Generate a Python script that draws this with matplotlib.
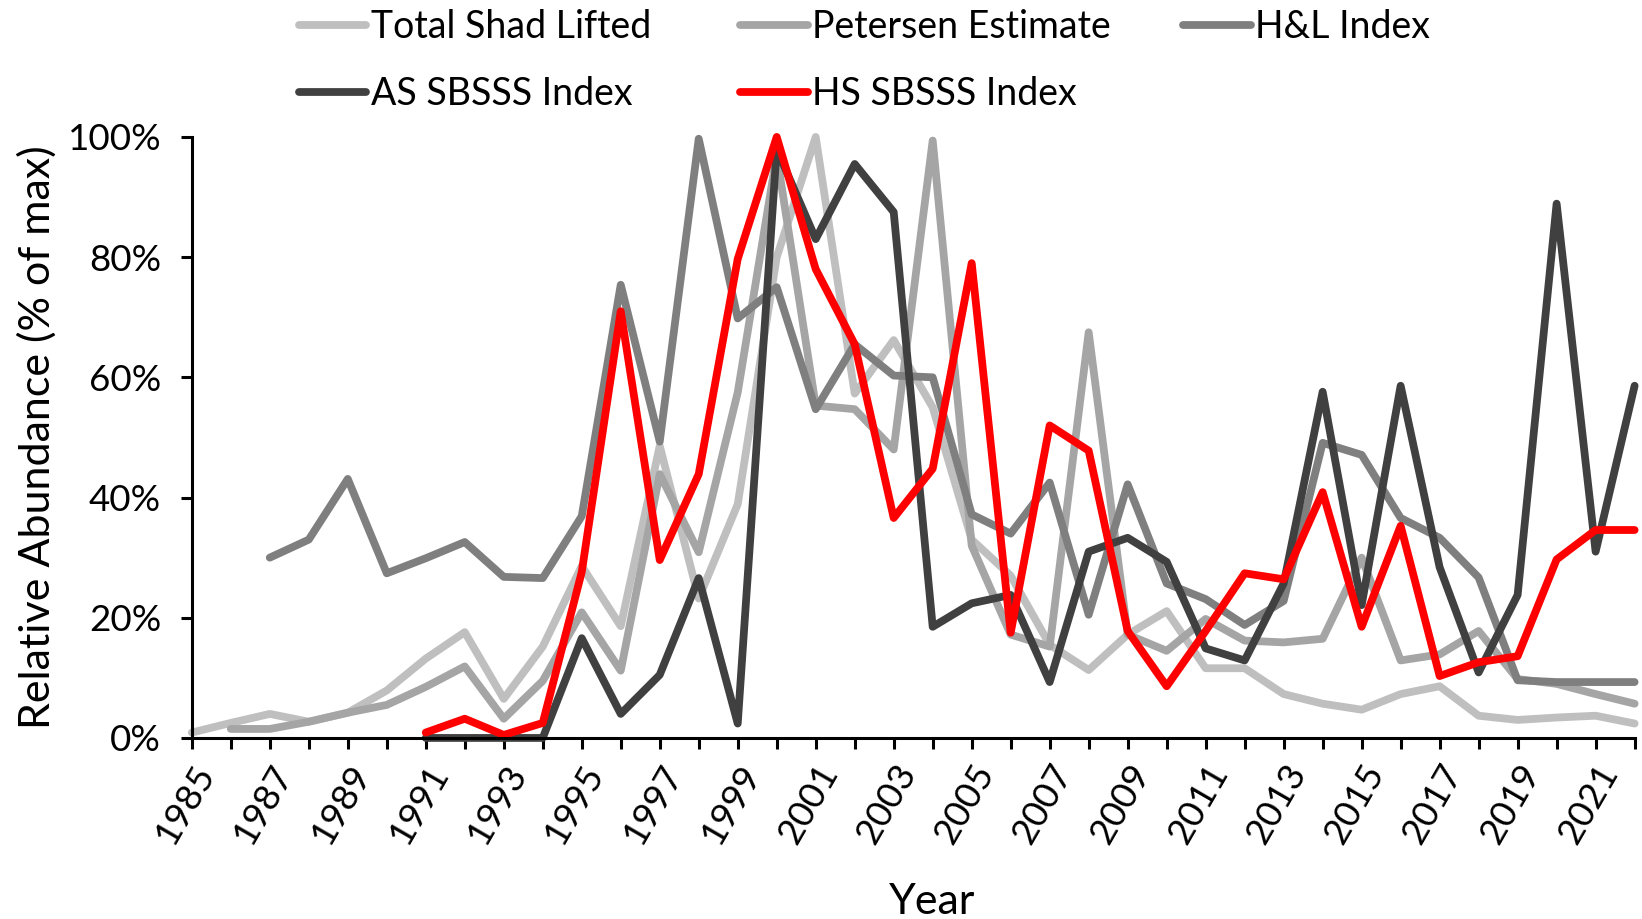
import numpy as np
import matplotlib
matplotlib.use("Agg")
import matplotlib.pyplot as plt
from matplotlib.ticker import PercentFormatter

plt.rcParams['font.family'] = ['Lato', 'DejaVu Sans']

nan = np.nan

# ---- data (% of max) ----
years = list(range(1985, 2023))

total_shad = [0.9, 2.5, 4.0, 2.7, 4.2, 7.9, 13.2, 17.6, 6.5, 15.2, 28.6, 18.6, 48.6, 23.2, 38.9,
              80, 100, 57.3, 66.2, 55, 33, 27, 15.5, 11.3, 17.2, 21.1, 11.6, 11.6, 7.3, 5.7,
              4.7, 7.3, 8.6, 3.7, 3.0, 3.4, 3.7, 2.4]
petersen = [nan, 1.5, 1.5, 2.7, 4.2, 5.5, 8.5, 11.9, 3.2, 9.5, 20.9, 11.2, 43.9, 30.9, 57.5,
            97, 55.3, 54.7, 48, 99.4, 32, 17.2, 15.2, 67.5, 17.2, 14.5, 19.8, 16.2, 15.9, 16.5,
            30, 12.9, 13.9, 17.8, 9.8, 9.0, 7.3, 5.7]
hl_index = [nan, nan, 30.0, 33.0, 43.1, 27.4, 29.9, 32.6, 26.8, 26.6, 36.9, 75.4, 49.3, 99.7, 69.8,
            75, 54.7, 65.5, 60.3, 60, 37.2, 34, 42.5, 20.5, 42.2, 25.7, 23.1, 18.8, 22.8, 49.1,
            47.1, 36.6, 33.3, 26.7, 9.6, 9.3, 9.3, 9.3]
as_index = [nan, nan, nan, nan, nan, nan, 0, 0, 0, 0, 16.6, 4.0, 10.5, 26.6, 2.4,
            98, 83, 95.5, 87.5, 18.5, 22.4, 23.8, 9.3, 31, 33.3, 29.3, 14.9, 12.9, 25.7, 57.6,
            22.1, 58.6, 28.4, 10.9, 23.8, 88.9, 31, 58.6]
hs_index = [nan, nan, nan, nan, nan, nan, 0.9, 3.2, 0.5, 2.5, 27.6, 71, 29.6, 43.9, 79.7,
            100, 78, 65.5, 36.6, 44.8, 79, 17.5, 52, 47.8, 17.8, 8.6, 17.8, 27.4, 26.4, 40.9,
            18.5, 35.3, 10.3, 12.6, 13.6, 29.7, 34.6, 34.6]

series = [
    ("Total Shad Lifted", total_shad, "#BFBFBF"),
    ("Petersen Estimate", petersen, "#A5A5A5"),
    ("H&L Index", hl_index, "#7F7F7F"),
    ("AS SBSSS Index", as_index, "#404040"),
    ("HS SBSSS Index", hs_index, "#FF0000"),
]

fig = plt.figure(figsize=(16.42, 9.19), dpi=100)
ax = fig.add_axes([0.1168, 0.197, 0.8787, 0.654])

lines = {}
for name, vals, col in series:
    ln, = ax.plot(years, vals, color=col, lw=5.6, label=name, clip_on=False,
                  solid_joinstyle='round', solid_capstyle='round')
    lines[name] = ln

ax.set_xlim(1985, 2022)
ax.set_ylim(0, 100)
ax.set_yticks(np.arange(0, 101, 20))
ax.yaxis.set_major_formatter(PercentFormatter(decimals=0))
ax.set_xticks(years)
ax.set_xticklabels([str(y) if (y - 1985) % 2 == 0 else "" for y in years],
                   rotation=60, ha='right', rotation_mode='anchor')

for s in ['top', 'right']:
    ax.spines[s].set_visible(False)
for s in ['left', 'bottom']:
    ax.spines[s].set_linewidth(2.2)
    ax.spines[s].set_color('black')
ax.tick_params(axis='both', direction='out', length=8, width=2.2, labelsize=26.5, colors='black')
ax.tick_params(axis='y', pad=14)
ax.tick_params(axis='x', pad=7)

ax.set_ylabel("Relative Abundance (% of max)", fontsize=31, labelpad=8)
ax.set_xlabel("Year", fontsize=31, labelpad=24)
ax.xaxis.label.set_x(0.513)

# legend: one entry per slot, 3 equal-width columns, 2 rows
slots = [("Total Shad Lifted", 0.1818, 0.971), ("Petersen Estimate", 0.4509, 0.971),
         ("H&L Index", 0.7207, 0.971), ("AS SBSSS Index", 0.1818, 0.898),
         ("HS SBSSS Index", 0.4509, 0.898)]
for name, lx, ly in slots:
    leg = fig.legend([lines[name]], [name], loc='center left', bbox_to_anchor=(lx, ly),
                     frameon=False, fontsize=27, handlelength=1.8, handletextpad=0.12,
                     borderpad=0, borderaxespad=0)

fig.savefig("out.png", dpi=100)
